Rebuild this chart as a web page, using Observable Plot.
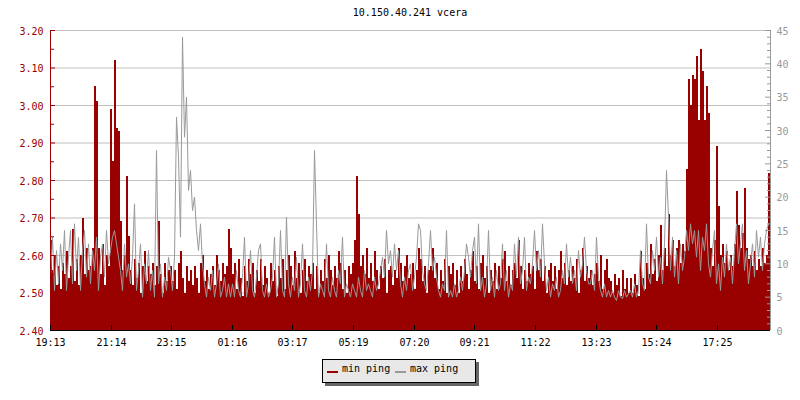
<!DOCTYPE html>
<html>
<head>
<meta charset="utf-8">
<script src="https://cdn.jsdelivr.net/npm/d3@7"></script>
<script src="https://cdn.jsdelivr.net/npm/@observablehq/plot@0.6"></script>
<style>
  body { margin: 0; background: #fff; }
  #wrap { position: relative; width: 800px; height: 400px; font-family: "DejaVu Sans Mono", monospace; font-size: 10px; line-height: 10px; color: #000; }
  #wrap svg { position: absolute; left: 0; top: 0; }
  #title { position: absolute; left: 0; top: 8px; width: 820px; text-align: center; white-space: pre; }
  #legend { position: absolute; left: 322px; top: 359px; width: 152px; height: 22px; border: 1px solid #000; background: #e8e8e8; box-shadow: 3px 3px 0 #666; }
  #legend .sw { position: absolute; top: 11px; width: 11px; height: 2px; }
  #legend .lb { position: absolute; top: 4px; white-space: pre; }
</style>
</head>
<body>
<div id="wrap">
  <div id="title"></div>
  <div id="legend"></div>
</div>
<script>
// ---- data ----
const title = "10.150.40.241 vcera";
const stepMinutes = 4; // one sample every 4 minutes over 24 h
const seriesNames = ["min ping", "max ping"];
const seriesColors = ["#990000", "#999999"];

// min ping, ms (left axis)
const minPing = [
  2.64,2.56,2.60,2.52,2.57,2.51,2.58,2.55,2.61,2.54,
  2.57,2.67,2.53,2.59,2.52,2.60,2.70,2.55,2.62,2.56,
  2.57,2.62,3.05,3.01,2.62,2.55,2.63,2.52,2.60,2.57,
  2.99,2.85,3.12,2.94,2.93,2.69,2.56,2.60,2.81,2.65,
  2.56,2.52,2.59,2.54,2.58,2.50,2.57,2.61,2.53,2.57,
  2.55,2.58,2.52,2.57,2.69,2.55,2.50,2.58,2.53,2.56,
  2.57,2.53,2.56,2.51,2.58,2.61,2.54,2.50,2.57,2.53,
  2.56,2.52,2.57,2.54,2.50,2.58,2.60,2.53,2.56,2.51,
  2.55,2.57,2.52,2.60,2.56,2.53,2.58,2.55,2.57,2.67,
  2.62,2.55,2.58,2.51,2.59,2.54,2.49,2.57,2.53,2.59,
  2.55,2.58,2.50,2.56,2.53,2.59,2.52,2.57,2.54,2.50,
  2.58,2.53,2.56,2.49,2.57,2.54,2.59,2.51,2.56,2.60,
  2.57,2.52,2.61,2.54,2.58,2.50,2.56,2.59,2.53,2.57,
  2.55,2.58,2.51,2.57,2.50,2.56,2.53,2.59,2.54,2.60,
  2.56,2.52,2.57,2.54,2.61,2.58,2.51,2.56,2.50,2.57,
  2.55,2.58,2.64,2.81,2.71,2.57,2.60,2.55,2.62,2.54,
  2.58,2.53,2.61,2.56,2.51,2.57,2.54,2.59,2.50,2.56,
  2.57,2.52,2.56,2.54,2.62,2.58,2.53,2.57,2.60,2.54,
  2.55,2.58,2.51,2.56,2.62,2.59,2.53,2.57,2.50,2.56,
  2.57,2.62,2.54,2.58,2.51,2.56,2.53,2.59,2.50,2.57,
  2.55,2.58,2.52,2.56,2.50,2.57,2.53,2.59,2.55,2.51,
  2.56,2.61,2.53,2.57,2.51,2.58,2.60,2.54,2.57,2.50,
  2.56,2.53,2.58,2.51,2.57,2.54,2.59,2.61,2.53,2.57,
  2.52,2.56,2.58,2.54,2.64,2.57,2.51,2.56,2.53,2.58,
  2.55,2.57,2.51,2.61,2.56,2.59,2.53,2.57,2.50,2.56,
  2.58,2.53,2.57,2.51,2.56,2.61,2.54,2.58,2.52,2.56,
  2.53,2.57,2.54,2.59,2.50,2.56,2.62,2.53,2.57,2.54,
  2.56,2.52,2.55,2.58,2.53,2.60,2.51,2.56,2.59,2.54,
  2.53,2.50,2.55,2.52,2.54,2.49,2.56,2.51,2.54,2.50,
  2.54,2.50,2.55,2.52,2.49,2.61,2.54,2.51,2.58,2.55,
  2.63,2.55,2.59,2.53,2.60,2.68,2.56,2.62,2.57,2.71,
  2.60,2.64,2.57,2.62,2.64,2.58,2.63,2.61,2.83,3.07,
  3.00,3.08,3.07,3.13,2.96,3.15,3.09,2.96,3.05,2.98,
  2.62,2.57,2.64,2.89,2.73,2.60,2.63,2.58,2.61,2.56,
  2.60,2.57,2.63,2.77,2.68,2.62,2.66,2.78,2.62,2.59,
  2.60,2.57,2.61,2.56,2.59,2.57,2.62,2.58,2.60,2.82
];

// max ping, ms (right axis)
const maxPing = [
  8,14,6,12,7,13,9,15,6,11,
  15,7,16,9,14,6,12,15,8,13,
  7,12,9,14,6,11,13,8,15,10,
  12,14,15,13,11,9,6,13,8,10,
  7,11,19,6,9,13,5,10,7,12,
  6,9,5,27,7,10,5,8,6,11,
  9,6,11,32,26,14,44,29,35,21,
  24,18,20,15,12,16,10,7,5,8,
  6,9,5,7,10,5,6,8,5,7,
  5,7,5,9,6,5,8,14,5,7,
  12,6,5,8,12,13,6,5,7,5,
  6,8,14,5,7,15,6,5,17,7,
  5,8,6,11,5,7,13,6,5,8,
  6,9,27,16,5,7,6,5,13,6,
  5,8,6,5,9,7,14,5,7,6,
  5,7,6,5,8,6,5,9,6,7,
  6,5,8,6,7,9,11,8,15,10,
  12,8,13,9,12,7,5,8,6,9,
  10,6,8,11,16,15,9,7,6,10,
  15,9,11,8,6,5,7,6,15,5,
  6,5,7,5,6,8,6,9,13,11,
  8,12,14,7,16,6,8,5,7,15,
  6,8,5,9,6,7,13,6,9,5,
  7,6,13,8,14,7,9,14,6,8,
  7,10,15,9,12,8,16,10,6,8,
  5,7,6,8,5,6,9,7,13,8,
  11,7,9,6,12,8,10,14,9,7,
  7,9,6,14,8,6,5,7,5,6,
  5,6,5,4.5,6,5,4.8,6,5,5.5,
  6,5,7,5,6,12,7,6,16,8,
  7,12,9,14,8,11,7,13,24,17,
  9,14,8,12,7,13,9,11,15,12,
  16,13,15,11,15,9,14,12,16,10,
  8,12,15,7,10,6,11,8,13,9,
  11,7,12,16,10,13,16,9,12,7,
  10,13,8,15,11,14,9,13,15,16
];

// x axis: minutes after 19:13 and their labels
const xTickMinutes = [0,122,242,364,484,606,728,848,970,1092,1212,1334];
const xTickLabels = ["19:13","21:14","23:15","01:16","03:17","05:19","07:20","09:21","11:22","13:23","15:24","17:25"];
const xDomain = [0, 1440];

// left axis (min ping)
const leftDomain = [2.40, 3.20];
const leftTicks = [2.40,2.50,2.60,2.70,2.80,2.90,3.00,3.10,3.20];
const leftMinorTicks = [2.45,2.55,2.65,2.75,2.85,2.95,3.05,3.15];
const gridValues = [2.50,2.60,2.70,2.80,2.90,3.00,3.10,3.20];

// right axis (max ping)
const rightDomain = [0, 45];
const rightTicks = [0,5,10,15,20,25,30,35,40,45];
const rightMinorTicks = [1,2,3,4,6,7,8,9,11,12,13,14,16,17,18,19,21,22,23,24,26,27,28,29,31,32,33,34,36,37,38,39,41,42,43,44];

// ---- build tables ----
const minRows = minPing.map((v, i) => ({t: i * stepMinutes, v}));
minRows.push({t: minPing.length * stepMinutes, v: minPing[minPing.length - 1]});
const maxRows = maxPing.map((v, i) => ({t: i * stepMinutes, v}));
const xTickRows = xTickMinutes.map((m, i) => ({m, label: xTickLabels[i]}));

const frame = {width: 800, height: 400, marginLeft: 50, marginRight: 30, marginTop: 30, marginBottom: 70};
const style = {fontFamily: "DejaVu Sans Mono", fontSize: "10px", background: "transparent", overflow: "visible"};

// base: grid + min ping area
const base = Plot.plot({
  ...frame, style,
  x: {domain: xDomain, axis: null},
  y: {domain: leftDomain, axis: null},
  marks: [
    Plot.ruleY(gridValues, {y: d => d, stroke: "#c0c0c0"}),
    Plot.areaY(minRows, {x: "t", y1: leftDomain[0], y2: "v", curve: "step-after", fill: seriesColors[0], shapeRendering: "crispEdges"})
  ]
});

// overlay: max ping line + right axis
const over = Plot.plot({
  ...frame, style,
  x: {domain: xDomain, axis: null},
  y: {domain: rightDomain, axis: null},
  marks: [
    Plot.lineY(maxRows, {x: "t", y: "v", stroke: seriesColors[1], strokeWidth: 1}),
    Plot.ruleX([xDomain[1]], {x: d => d, stroke: "#999999"}),
    Plot.tickY(rightTicks, {y: d => d, stroke: "#999999", insetLeft: 715}),
    Plot.tickY(rightMinorTicks, {y: d => d, stroke: "#999999", insetLeft: 717}),
    Plot.text(rightTicks, {y: d => d, text: d => String(d), frameAnchor: "right", textAnchor: "start", dx: 6, dy: 1, fill: "#999999"})
  ]
});

// top: left axis + x axis
const axes = Plot.plot({
  ...frame, style,
  x: {domain: xDomain, axis: null},
  y: {domain: leftDomain, axis: null},
  marks: [
    Plot.ruleX([xDomain[0]], {x: d => d, stroke: "#990000"}),
    Plot.tickY(leftTicks, {y: d => d, stroke: "#990000", insetRight: 715}),
    Plot.tickY(leftMinorTicks, {y: d => d, stroke: "#990000", insetRight: 716}),
    Plot.text(leftTicks, {y: d => d, text: d => d.toFixed(2), frameAnchor: "left", textAnchor: "end", dx: -7, dy: 1, fill: "#990000"}),
    Plot.ruleY([leftDomain[0]], {y: d => d, stroke: "#000"}),
    Plot.tickX(xTickRows, {x: "m", stroke: "#000", insetTop: 295}),
    Plot.text(xTickRows, {x: "m", text: "label", frameAnchor: "bottom", lineAnchor: "top", dy: 8, fill: "#000"})
  ]
});

const wrap = document.getElementById("wrap");
wrap.insertBefore(axes, wrap.firstChild);
wrap.insertBefore(over, wrap.firstChild);
wrap.insertBefore(base, wrap.firstChild);

document.getElementById("title").textContent = title;

const legend = document.getElementById("legend");
const legendPos = [{sw: 4, lb: 19}, {sw: 72, lb: 87}];
seriesNames.forEach((name, i) => {
  const sw = document.createElement("div");
  sw.className = "sw";
  sw.style.left = legendPos[i].sw + "px";
  sw.style.background = seriesColors[i];
  legend.appendChild(sw);
  const lb = document.createElement("div");
  lb.className = "lb";
  lb.style.left = legendPos[i].lb + "px";
  lb.textContent = name;
  legend.appendChild(lb);
});
</script>
</body>
</html>
